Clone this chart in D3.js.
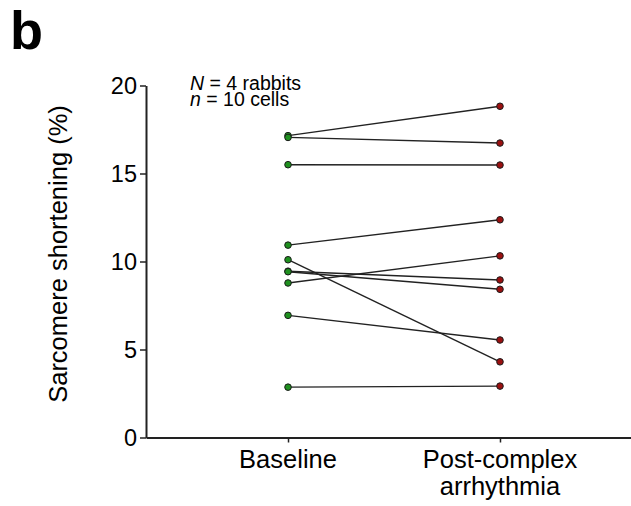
<!DOCTYPE html>
<html>
<head>
<meta charset="utf-8">
<script src="https://cdn.jsdelivr.net/npm/d3@7"></script>
<style>
  html, body { margin: 0; padding: 0; background: #fff; }
  text { font-family: Arial, "Liberation Sans", Helvetica, sans-serif; fill: #000; }
</style>
</head>
<body>
<svg id="chart" width="631" height="506"></svg>
<script>
// ---- data ----
const categories = ["Baseline", "Post-complex arrhythmia"];
const categoryLines = [["Baseline"], ["Post-complex", "arrhythmia"]];
const baselineValues = [17.15, 17.05, 15.5, 10.93, 10.1, 9.45, 9.42, 8.78, 6.94, 2.86];
const postValues     = [18.82, 16.73, 15.48, 12.37, 4.3, 8.95, 8.42, 10.32, 5.54, 2.92];
const yTicks = [0, 5, 10, 15, 20];
const yLabel = "Sarcomere shortening (%)";
const panelLabel = "b";

// ---- layout ----
const svg = d3.select("#chart");
const y = d3.scaleLinear().domain([0, 20]).range([437.5, 85.5]);
const x = d3.scalePoint().domain(categories).range([146, 642]).padding(0.67);

// y axis
const yAxis = svg.append("g")
  .attr("transform", "translate(146,0)")
  .call(d3.axisLeft(y).tickValues(yTicks).tickSize(6).tickSizeOuter(0).tickPadding(3));
yAxis.select(".domain").attr("stroke", "#222").attr("stroke-width", 2);
yAxis.selectAll(".tick line").attr("stroke", "#222").attr("stroke-width", 1.5);
yAxis.selectAll(".tick text").attr("font-size", 23.5).attr("font-family", "Arial, 'Liberation Sans', sans-serif").attr("fill", "#000");

// x axis
const xAxis = svg.append("g")
  .attr("transform", "translate(0,437.5)")
  .call(d3.axisBottom(x).tickSize(5).tickSizeOuter(0).tickFormat(""));
xAxis.select(".domain").attr("stroke", "#222").attr("stroke-width", 2);
xAxis.selectAll(".tick line").attr("stroke", "#222").attr("stroke-width", 1.5);

// category labels
categories.forEach((c, i) => {
  const t = svg.append("text")
    .attr("x", x(c))
    .attr("y", 468)
    .attr("text-anchor", "middle")
    .attr("font-size", 25.5);
  categoryLines[i].forEach((ln, j) => {
    t.append("tspan").attr("x", x(c)).attr("dy", j === 0 ? 0 : 26.5).text(ln);
  });
});

// y label
svg.append("text")
  .attr("transform", `translate(67,254) rotate(-90)`)
  .attr("text-anchor", "middle")
  .attr("font-size", 25.5)
  .text(yLabel);

// panel label
svg.append("text")
  .attr("x", 10)
  .attr("y", 49)
  .attr("font-size", 54)
  .attr("font-weight", "bold")
  .text(panelLabel);

// annotation
const ann = svg.append("text").attr("x", 190).attr("y", 90).attr("font-size", 19.5);
ann.append("tspan").attr("font-style", "italic").text("N");
ann.append("tspan").text(" = 4 rabbits");
const ann2 = svg.append("text").attr("x", 190).attr("y", 106).attr("font-size", 19.5);
ann2.append("tspan").attr("font-style", "italic").text("n");
ann2.append("tspan").text(" = 10 cells");

// paired lines
const pairs = baselineValues.map((b, i) => ({ b, p: postValues[i] }));
svg.append("g").selectAll("line").data(pairs).join("line")
  .attr("x1", x(categories[0])).attr("y1", d => y(d.b))
  .attr("x2", x(categories[1])).attr("y2", d => y(d.p))
  .attr("stroke", "#222").attr("stroke-width", 1.4);

// points
svg.append("g").selectAll("circle").data(baselineValues).join("circle")
  .attr("cx", x(categories[0])).attr("cy", d => y(d)).attr("r", 3.3)
  .attr("fill", "#1f901f").attr("stroke", "#1a1a1a").attr("stroke-width", 1);
svg.append("g").selectAll("circle").data(postValues).join("circle")
  .attr("cx", x(categories[1])).attr("cy", d => y(d)).attr("r", 3.3)
  .attr("fill", "#9a1010").attr("stroke", "#1a1a1a").attr("stroke-width", 1);
</script>
</body>
</html>
